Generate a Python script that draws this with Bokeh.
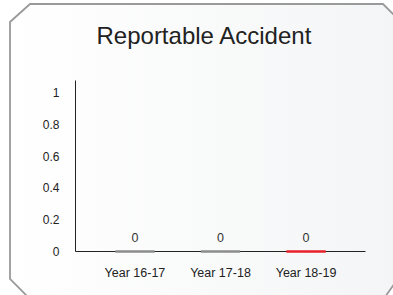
from urllib.parse import quote
from bokeh.plotting import figure
from bokeh.models import (ColumnDataSource, FactorRange, Range1d, FixedTicker,
                          LabelSet, InlineStyleSheet, Title)
from bokeh.core.properties import value
from bokeh.embed import file_html
from bokeh.resources import INLINE

# ---- data ----
categories = ["Year 16-17", "Year 17-18", "Year 18-19"]
values = [0, 0, 0]
bar_colors = ["#8c8c8c", "#8c8c8c", "#e8202a"]
y_ticks = [0, 0.2, 0.4, 0.6, 0.8, 1]
y_tick_labels = ["0", "0.2", "0.4", "0.6", "0.8", "1"]
title_text = "Reportable Accident"

FONT = "Liberation Sans"

src = ColumnDataSource(dict(cat=categories, val=values, color=bar_colors,
                            lab=[str(v) for v in values]))

# decorative card behind the chart: chamfered border + soft gradient
card_svg = (
    "<svg xmlns='http://www.w3.org/2000/svg' width='393' height='295'>"
    "<defs><linearGradient id='g' x1='0' y1='0' x2='1' y2='0'>"
    "<stop offset='0' stop-color='#ffffff'/><stop offset='1' stop-color='#f4f5f6'/>"
    "</linearGradient></defs>"
    "<polygon points='10,279 10,22 30,4 383,4 395,16 395,283 385,297 28,297' "
    "fill='url(#g)' stroke='#9a9a9a' stroke-width='1.8'/></svg>"
)
css = (":host { background-color: white; background-image: url(\"data:image/svg+xml,"
       + quote(card_svg) + "\"); background-repeat: no-repeat; }")

p = figure(width=393, height=295, output_backend="svg", toolbar_location=None,
           title=None,
           x_range=FactorRange(*categories, range_padding=0.13),
           y_range=Range1d(0, 1.075),
           min_border_left=75, min_border_right=28, min_border_top=80,
           min_border_bottom=44,
           stylesheets=[InlineStyleSheet(css=css)])

xax = p.xaxis[0]
yax = p.yaxis[0]

# spacer (nearest the frame), then the real title above it
p.add_layout(Title(text=" ", text_font_size="2px", standoff=18), "above")
p.add_layout(Title(text=title_text, align="left", offset=21,
                   vertical_align="bottom", text_font=FONT,
                   text_font_size="24px", text_font_style="normal",
                   text_color="#222222", standoff=20), "above")

p.background_fill_color = None
p.border_fill_color = None
p.outline_line_color = None
p.grid.grid_line_color = None

p.vbar(x="cat", top="val", width=0.46, source=src, fill_color="color",
       line_color="color", line_width=2.5, level="overlay")

labels = LabelSet(x="cat", y="val", text="lab", source=src, y_offset=10,
                  text_align="center", text_baseline="bottom",
                  text_font=value(FONT), text_font_size="12.5px",
                  text_color="#333333")
p.add_layout(labels)

for ax in (xax, yax):
    ax.axis_line_color = "#222222"
    ax.axis_line_width = 1
    ax.major_tick_line_color = None
    ax.minor_tick_line_color = None
    ax.major_tick_out = 0
    ax.major_tick_in = 0
    ax.minor_tick_out = 0
    ax.major_label_text_font = FONT
    ax.major_label_text_color = "#222222"

yax.ticker = FixedTicker(ticks=y_ticks)
yax.major_label_overrides = {t: l for t, l in zip(y_ticks, y_tick_labels)}
yax.major_label_text_font_size = "12px"
yax.major_label_standoff = 16
xax.major_label_text_font_size = "12.5px"
xax.major_label_standoff = 14

open("out.html", "w").write(file_html(p, INLINE))
